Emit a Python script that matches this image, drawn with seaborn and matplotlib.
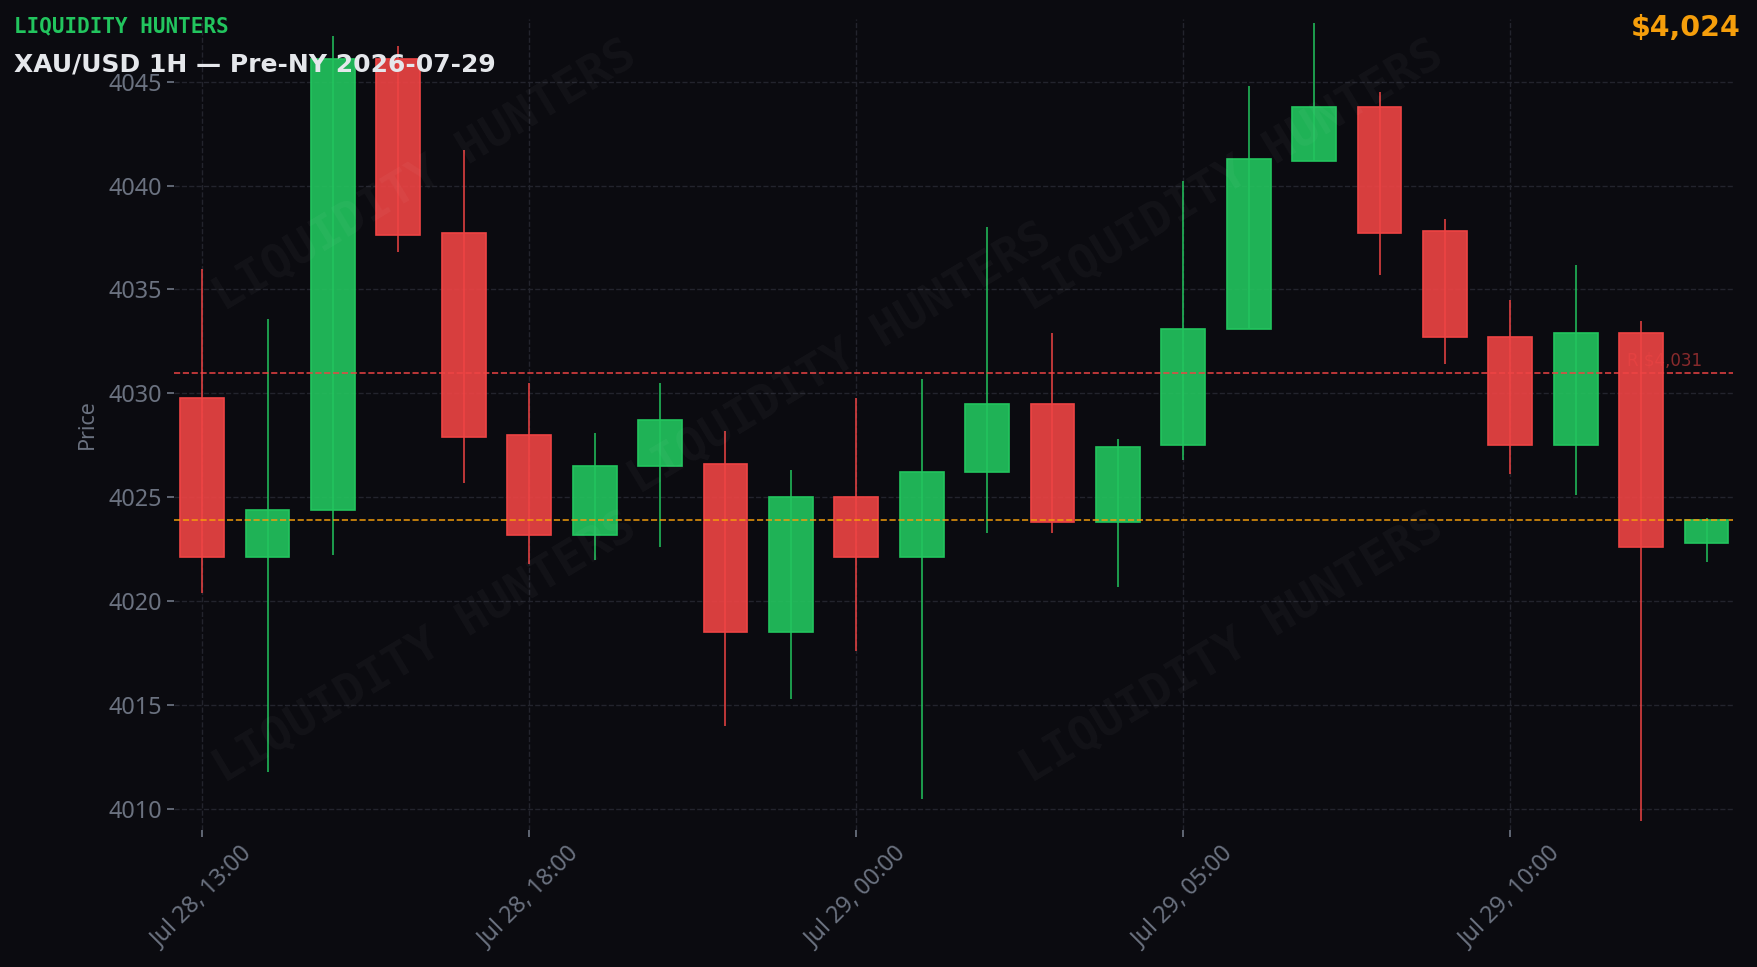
import matplotlib
matplotlib.use('Agg')
import matplotlib.pyplot as plt
import matplotlib.transforms as mtransforms
import numpy as np
import pandas as pd
import seaborn as sns

# hourly OHLC, XAU/USD
opens = [4029.8, 4022.1, 4024.4, 4046.1, 4037.7, 4028.0, 4023.2, 4026.5, 4026.6, 4018.5, 4025.0, 4022.1,
         4026.2, 4029.5, 4023.8, 4027.5, 4033.1, 4041.2, 4043.8, 4037.8, 4032.7, 4027.5, 4032.9, 4022.8]
highs = [4036.0, 4033.6, 4047.2, 4046.7, 4041.7, 4030.5, 4028.1, 4030.5, 4028.2, 4026.3, 4029.8, 4030.7,
         4038.0, 4032.9, 4027.8, 4040.2, 4044.8, 4047.8, 4044.5, 4038.4, 4034.5, 4036.2, 4033.5, 4024.0]
lows = [4020.4, 4011.8, 4022.2, 4036.8, 4025.7, 4021.8, 4022.0, 4022.6, 4014.0, 4015.3, 4017.6, 4010.5,
        4023.3, 4023.3, 4020.7, 4026.8, 4033.1, 4041.2, 4035.7, 4031.4, 4026.1, 4025.1, 4009.4, 4021.9]
closes = [4022.1, 4024.4, 4046.1, 4037.6, 4027.9, 4023.2, 4026.5, 4028.7, 4018.5, 4025.0, 4022.1, 4026.2,
          4029.5, 4023.8, 4027.4, 4033.1, 4041.3, 4043.8, 4037.7, 4032.7, 4027.5, 4032.9, 4022.6, 4023.9]

tick_pos = [0, 5, 10, 15, 20]
tick_labels = ['Jul 28, 13:00', 'Jul 28, 18:00', 'Jul 29, 00:00', 'Jul 29, 05:00', 'Jul 29, 10:00']

resistance = 4031
last_price = closes[-1]

BG = '#0b0b10'
GREEN = '#22c55e'
RED = '#ef4444'
AMBER = '#f59e0b'
GRAY = '#6b7280'
GRID = '#23242d'

df = pd.DataFrame({'open': opens, 'high': highs, 'low': lows, 'close': closes})
df['idx'] = [str(i) for i in range(len(df))]
df['body_low'] = df[['open', 'close']].min(axis=1)
df['body_h'] = (df['close'] - df['open']).abs()
df['up'] = df['close'] >= df['open']

sns.set_theme(style='dark', rc={
    'figure.facecolor': BG, 'axes.facecolor': BG, 'savefig.facecolor': BG,
    'axes.edgecolor': BG, 'grid.color': GRID, 'grid.linestyle': '--',
    'xtick.color': GRAY, 'ytick.color': GRAY, 'text.color': GRAY,
    'axes.labelcolor': GRAY,
})
plt.rcParams['font.family'] = ['DejaVu Sans']

fig = plt.figure(figsize=(17.58, 9.67), dpi=100)
ax = fig.add_axes([0.099, 0.142, 0.887, 0.838])

# watermark
for fx, fy in [(0.242, 0.818), (0.701, 0.818), (0.478, 0.629), (0.242, 0.330), (0.701, 0.330)]:
    fig.text(fx, fy, 'LIQUIDITY HUNTERS', family='DejaVu Sans Mono', weight='bold', fontsize=34,
             color='white', alpha=0.035, rotation=31, ha='center', va='center', zorder=0)

order = list(df['idx'])
# wicks
ax.vlines(np.arange(len(df)), df['low'], df['high'],
          colors=[GREEN if u else RED for u in df['up']], linewidth=1.1, zorder=2)
# bodies
for up, col in [(True, GREEN), (False, RED)]:
    sub = df[df['up'] == up]
    sns.barplot(data=sub, x='idx', y='body_h', order=order, bottom=sub['body_low'].values,
                width=0.67, color=col, saturation=1, errorbar=None, ax=ax,
                facecolor=matplotlib.colors.to_rgba(col, 0.9), edgecolor=col, linewidth=1.2, zorder=3)

ax.axhline(resistance, color=RED, linestyle='--', linewidth=1.2, alpha=0.9, zorder=4)
ax.axhline(last_price, color=AMBER, linestyle='--', linewidth=1.2, alpha=0.9, zorder=4)
trans = mtransforms.blended_transform_factory(ax.transAxes, ax.transData)
ax.text(0.98, resistance + 0.15, f'R ${resistance:,}', transform=trans, ha='right', va='bottom',
        fontsize=12, color=RED, alpha=0.55, zorder=5)

ax.set_xlim(-0.43, 23.41)
ax.set_ylim(4009.0, 4048.0)
ax.set_xticks(tick_pos)
ax.set_xticklabels(tick_labels, rotation=45, ha='center', fontsize=16.8, family='Noto Sans')
ax.set_yticks([4010, 4015, 4020, 4025, 4030, 4035, 4040, 4045])
ax.set_yticklabels([str(v) for v in ax.get_yticks().astype(int)], fontsize=16.8, family='Noto Sans')
ax.tick_params(axis='y', length=5, color=GRAY, left=True)
ax.tick_params(axis='x', length=5, color=GRAY, bottom=True)
ax.grid(True, axis='both', color=GRID, linestyle='--', linewidth=1)
ax.set_axisbelow(True)
ax.set_xlabel('')
ax.set_ylabel('Price', fontsize=15.5, color=GRAY, family='Noto Sans', labelpad=8)
for s in ax.spines.values():
    s.set_visible(False)

fig.text(0.008, 0.973, 'LIQUIDITY HUNTERS', family='DejaVu Sans Mono', weight='bold',
         fontsize=15, color=GREEN, ha='left', va='center')
fig.text(0.008, 0.933, 'XAU/USD 1H — Pre-NY 2026-07-29', weight='bold',
         fontsize=18, color='#e5e7eb', ha='left', va='center', zorder=10)
fig.text(0.990, 0.971, f'${last_price:,.0f}', weight='bold', fontsize=20.5,
         color=AMBER, ha='right', va='center')

fig.savefig('out.png', dpi=100, facecolor=BG)
